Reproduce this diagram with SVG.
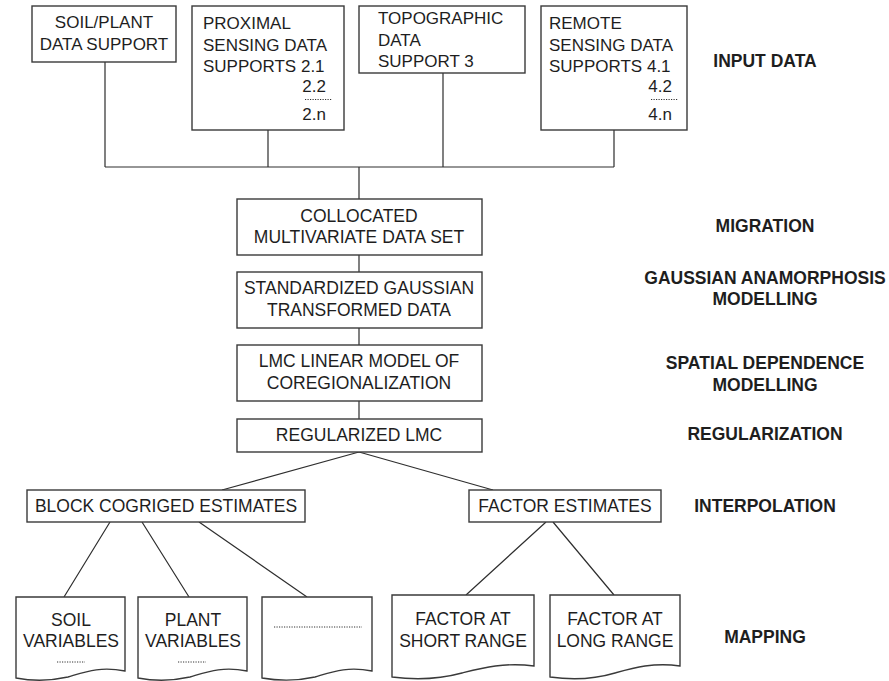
<svg xmlns="http://www.w3.org/2000/svg" width="889" height="681" viewBox="0 0 889 681">
<style>
.box{fill:#fff;stroke:#3a3a3a;stroke-width:1.4}
.ln{fill:none;stroke:#2e2e2e;stroke-width:1.2}
.dot{fill:none;stroke:#333;stroke-width:1;stroke-dasharray:1.2 1.3}
.t{font-family:"Liberation Sans",Arial,sans-serif;font-size:17px;fill:#1e1e1e}
.m{font-family:"Liberation Sans",Arial,sans-serif;font-size:17.5px;fill:#1e1e1e;text-anchor:middle}
.l{font-family:"Liberation Sans",Arial,sans-serif;font-size:17.5px;font-weight:bold;fill:#1e1e1e;text-anchor:middle}
</style>
<rect width="889" height="681" fill="#fff"/>
<g id="connectors">
<path class="ln" d="M105,62V167M268,130V167M443,73V167M614,130V167M105,167H614M359,167V199"/>
<path class="ln" d="M359,255V272M359,328V345M359,401V419"/>
<path class="ln" d="M359,452L222,490M359,452L493,490"/>
<path class="ln" d="M110,522L64,597M142,522L189,597M199,522L307,597"/>
<path class="ln" d="M546,522L466,595M553,522L614,595"/>
</g>
<g id="soil-plant-data">
<rect class="box" x="32" y="6" width="144" height="56"/>
<text class="m" style="font-size:17px" x="104" y="28">SOIL/PLANT</text>
<text class="m" style="font-size:17px" x="104" y="50">DATA SUPPORT</text>
</g>
<g id="proximal-sensing">
<rect class="box" x="192" y="6" width="152" height="124"/>
<text class="t" x="203" y="29">PROXIMAL</text>
<text class="t" x="203" y="51">SENSING DATA</text>
<text class="t" x="203" y="71.5">SUPPORTS 2.1</text>
<text class="t" x="326" y="91.5" text-anchor="end">2.2</text>
<line class="dot" x1="305" y1="99.5" x2="332" y2="99.5"/>
<text class="t" x="326" y="119.5" text-anchor="end">2.n</text>
</g>
<g id="topographic">
<rect class="box" x="359" y="6" width="166" height="67"/>
<text class="t" x="378" y="24">TOPOGRAPHIC</text>
<text class="t" x="378" y="46">DATA</text>
<text class="t" x="378" y="67">SUPPORT 3</text>
</g>
<g id="remote-sensing">
<rect class="box" x="541" y="6" width="146" height="124"/>
<text class="t" x="549" y="29">REMOTE</text>
<text class="t" x="549" y="51">SENSING DATA</text>
<text class="t" x="549" y="71.5">SUPPORTS 4.1</text>
<text class="t" x="672" y="91.5" text-anchor="end">4.2</text>
<line class="dot" x1="651" y1="99.5" x2="678" y2="99.5"/>
<text class="t" x="672" y="119.5" text-anchor="end">4.n</text>
</g>
<g id="collocated">
<rect class="box" x="237" y="199" width="245" height="56"/>
<text class="m" x="359" y="222">COLLOCATED</text>
<text class="m" x="359" y="243">MULTIVARIATE DATA SET</text>
</g>
<g id="standardized">
<rect class="box" x="237" y="272" width="245" height="56"/>
<text class="m" x="359" y="294">STANDARDIZED GAUSSIAN</text>
<text class="m" x="359" y="316">TRANSFORMED DATA</text>
</g>
<g id="lmc">
<rect class="box" x="237" y="345" width="245" height="56"/>
<text class="m" x="359" y="367">LMC LINEAR MODEL OF</text>
<text class="m" x="359" y="389">COREGIONALIZATION</text>
</g>
<g id="regularized">
<rect class="box" x="237" y="419" width="245" height="33"/>
<text class="m" x="359" y="441">REGULARIZED LMC</text>
</g>
<g id="block-cogriged">
<rect class="box" x="27" y="490" width="278" height="32"/>
<text class="m" x="166" y="512">BLOCK COGRIGED ESTIMATES</text>
</g>
<g id="factor-estimates">
<rect class="box" x="469" y="490" width="192" height="32"/>
<text class="m" x="565" y="512">FACTOR ESTIMATES</text>
</g>
<g id="soil-variables">
<path class="box" d="M16,597H125V671C100,666 85,672 68,677C50,681 32,681 16,678Z"/>
<text class="m" x="71" y="626">SOIL</text>
<text class="m" x="71" y="647">VARIABLES</text>
<line class="dot" x1="57" y1="662" x2="85" y2="662"/>
</g>
<g id="plant-variables">
<path class="box" d="M138,597H247V671C222,666 207,672 190,677C172,681 154,681 138,678Z"/>
<text class="m" x="193" y="626">PLANT</text>
<text class="m" x="193" y="647">VARIABLES</text>
<line class="dot" x1="178" y1="662" x2="206" y2="662"/>
</g>
<g id="other-variables">
<path class="box" d="M262,597H372V671C347,666 332,672 315,677C297,681 279,681 262,678Z"/>
<line class="dot" x1="274" y1="627" x2="362" y2="627"/>
</g>
<g id="factor-short">
<path class="box" d="M392,595H534V666C505,662 482,668 462,673C440,679 415,680 392,677Z"/>
<text class="m" x="463" y="625">FACTOR AT</text>
<text class="m" x="463" y="647">SHORT RANGE</text>
</g>
<g id="factor-long">
<path class="box" d="M550,595H680V666C654,662 633,668 615,673C595,679 571,680 550,677Z"/>
<text class="m" x="615" y="625">FACTOR AT</text>
<text class="m" x="615" y="647">LONG RANGE</text>
</g>
<g id="stage-labels">
<text class="l" x="765" y="67">INPUT DATA</text>
<text class="l" x="765" y="232">MIGRATION</text>
<text class="l" x="765" y="284">GAUSSIAN ANAMORPHOSIS</text>
<text class="l" x="765" y="305">MODELLING</text>
<text class="l" x="765" y="369">SPATIAL DEPENDENCE</text>
<text class="l" x="765" y="391">MODELLING</text>
<text class="l" x="765" y="440">REGULARIZATION</text>
<text class="l" x="765" y="512">INTERPOLATION</text>
<text class="l" x="765" y="643">MAPPING</text>
</g>
</svg>
